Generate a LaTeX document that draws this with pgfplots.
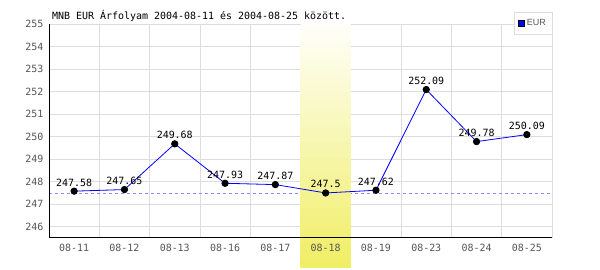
\documentclass[border=0pt]{standalone}
\usepackage{pgfplots}
\pgfplotsset{compat=1.18}
\usepackage{fontspec}
\setmainfont{Liberation Sans}
\newfontfamily\monof{DejaVu Sans Mono}
\definecolor{tickgray}{RGB}{85,85,85}
\definecolor{gridgray}{RGB}{221,221,221}
\definecolor{bandyellow}{RGB}{240,238,100}
\definecolor{dashblue}{RGB}{140,140,255}
\begin{document}
\begin{tikzpicture}
\begin{axis}[
  set layers=standard,
  at={(49bp,32bp)}, anchor=south west,
  width=503bp, height=214bp, scale only axis,
  xmin=-0.5, xmax=9.5, ymin=245.5, ymax=255,
  axis x line=bottom, axis y line=left,
  axis line style={-, black, line width=1bp},
  xtick={0,...,9},
  xticklabels={08-11,08-12,08-13,08-16,08-17,08-18,08-19,08-23,08-24,08-25},
  ytick={246,...,255},
  major tick length=0pt, minor tick length=0pt,
  /pgf/number format/assume math mode=true,
  tick label style={font=\monof\fontsize{10}{10}\selectfont, text=tickgray},
  xticklabel style={yshift=-3bp},
  yticklabel style={xshift=-2bp},
  clip=false,
  legend style={at={(1,1.056)}, anchor=north east, draw=gridgray,
    font=\fontsize{9}{10}\selectfont, text=tickgray, inner xsep=4bp, inner ysep=5bp,
    row sep=0pt},
  legend cell align=left,
  legend image code/.code={\draw[fill=blue, draw=black, line width=0.5bp] (0bp,-3bp) rectangle (6bp,3bp);},
]
\begin{pgfonlayer}{axis background}
\pgfplotsinvokeforeach{246,...,255}{\draw[gridgray, line width=0.8bp] (axis cs:-0.5,#1) -- (axis cs:9.5,#1);}
\pgfplotsinvokeforeach{0.5,1.5,2.5,3.5,4.5,5.5,6.5,7.5,8.5,9.5}{\draw[gridgray, line width=0.8bp] (axis cs:#1,245.5) -- (axis cs:#1,255);}
\draw[dashblue, line width=0.8bp, dash pattern=on 3bp off 3bp] (axis cs:-0.5,247.5) -- (axis cs:9.5,247.5);
\shade[top color=white!97!bandyellow, bottom color=bandyellow] (axis cs:4.5,255) rectangle (axis cs:5.5,244.21);
\end{pgfonlayer}
\addplot[blue, line width=0.8bp, mark=*, mark size=3.2bp,
  mark options={fill=black, draw=black},
  nodes near coords,
  nodes near coords style={font=\monof\fontsize{10}{10}\selectfont, text=black, anchor=base, yshift=5bp},
  point meta=explicit symbolic]
  table[meta=lab] {
x y lab
0 247.58 247.58
1 247.65 247.65
2 249.68 249.68
3 247.93 247.93
4 247.87 247.87
5 247.5 247.5
6 247.62 247.62
7 252.09 252.09
8 249.78 249.78
9 250.09 250.09
};
\addlegendentry{EUR\hspace{7bp}}
\end{axis}
\node[anchor=west, font=\monof\fontsize{10}{10}\selectfont, inner sep=0pt] at (52bp,254bp) {MNB EUR Árfolyam 2004-08-11 és 2004-08-25 között.};
\path (0,0) rectangle (600bp,270bp);
\end{tikzpicture}
\end{document}
